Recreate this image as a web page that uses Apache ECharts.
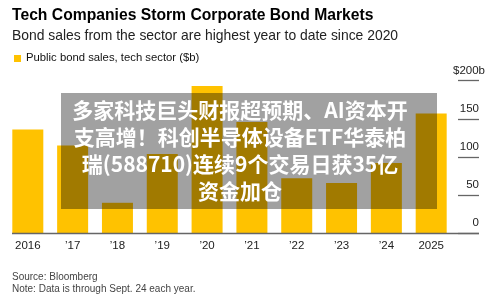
<!DOCTYPE html>
<html>
<head>
<meta charset="utf-8">
<script src="https://cdn.jsdelivr.net/npm/echarts@6/dist/echarts.min.js"></script>
<style>
html,body{margin:0;padding:0;background:#fff;}
#chart{width:500px;height:304px;}
</style>
</head>
<body>
<div id="chart"></div>
<script>
// data ($b)
var years = ['2016', '\u201917', '\u201918', '\u201919', '\u201920', '\u201921', '\u201922', '\u201923', '\u201924', '2025'];
var sales = [136, 115, 40, 104, 193, 146, 72, 66, 92, 157];
var yTicks = [0, 50, 100, 150, 200];

var overlayLines = [
    '多家科技巨头财报超预期、AI资本开',
    '支高增！科创半导体设备ETF华泰柏',
    '瑞(588710)连续9个交易日获35亿',
    '资金加仓'
];

var myChart = echarts.init(document.getElementById('chart'));
var font = 'Liberation Sans, Arial, sans-serif';

var option = {
    animation: false,
    textStyle: { fontFamily: font },
    grid: [
        { left: 5.4, right: 46.4, top: 80.7, bottom: 70.7 },
        { left: 458, right: 21, top: 80.7, bottom: 70.7 }
    ],
    xAxis: [
        {
            gridIndex: 0,
            type: 'category',
            data: years,
            axisLine: { show: false },
            axisTick: { show: false },
            axisLabel: { color: '#222', fontSize: 11.5, margin: 7, fontFamily: font }
        },
        { gridIndex: 1, type: 'value', show: false }
    ],
    yAxis: [
        { gridIndex: 0, type: 'value', min: 0, max: 200, interval: 50, show: false },
        {
            gridIndex: 1,
            type: 'value',
            position: 'right',
            min: yTicks[0],
            max: yTicks[yTicks.length - 1],
            interval: 50,
            axisLine: { show: false },
            axisTick: { show: false },
            splitLine: { show: true, lineStyle: { color: '#666', width: 1.3 } },
            axisLabel: {
                inside: true,
                margin: 0,
                color: '#222',
                fontSize: 11.5,
                fontFamily: font,
                verticalAlign: 'bottom',
                padding: [0, 0, 4, 0],
                // the "b" of the top label hangs past the right edge of the numbers
                formatter: function (v) { return v === 200 ? '{n|$200b}' : v; },
                rich: {
                    n: { color: '#222', fontSize: 11.5, fontFamily: font, width: 26, align: 'left' }
                }
            }
        }
    ],
    series: [{
        type: 'bar',
        xAxisIndex: 0,
        yAxisIndex: 0,
        data: sales,
        barWidth: 31,
        itemStyle: { color: '#FFC200' },
        z: 2
    }],
    graphic: [
        { type: 'text', left: 12, top: 8,
          style: { text: 'Tech Companies Storm Corporate Bond Markets', fill: '#000', font: 'bold 15.7px ' + font } },
        { type: 'text', left: 12, top: 29,
          style: { text: 'Bond sales from the sector are highest year to date since 2020', fill: '#222', font: '13.9px ' + font } },
        { type: 'rect', left: 14, top: 55, shape: { width: 7, height: 7 }, style: { fill: '#FFC200' } },
        { type: 'text', left: 26, top: 52,
          style: { text: 'Public bond sales, tech sector ($b)', fill: '#111', font: '11.3px ' + font } },
        { type: 'line', shape: { x1: 12, y1: 233.5, x2: 479, y2: 233.5 },
          style: { stroke: '#666', lineWidth: 1.3 }, z: 5 },
        { type: 'text', left: 12, top: 272,
          style: { text: 'Source: Bloomberg', fill: '#444', font: '10px ' + font } },
        { type: 'text', left: 12, top: 284,
          style: { text: 'Note: Data is through Sept. 24 each year.', fill: '#444', font: '10px ' + font } },
        { type: 'rect', left: 61, top: 93, shape: { width: 376, height: 116 },
          style: { fill: 'rgba(0,0,0,0.37)' }, z: 10 },
        { type: 'text', x: 240, y: 97, z: 11,
          style: {
              text: overlayLines.join('\n'),
              fill: '#fff',
              align: 'center',
              verticalAlign: 'top',
              lineHeight: 27,
              font: 'bold 21px "Noto Sans CJK SC", sans-serif'
          } }
    ]
};

myChart.setOption(option);
window.addEventListener('resize', function () { myChart.resize(); });
</script>
</body>
</html>
